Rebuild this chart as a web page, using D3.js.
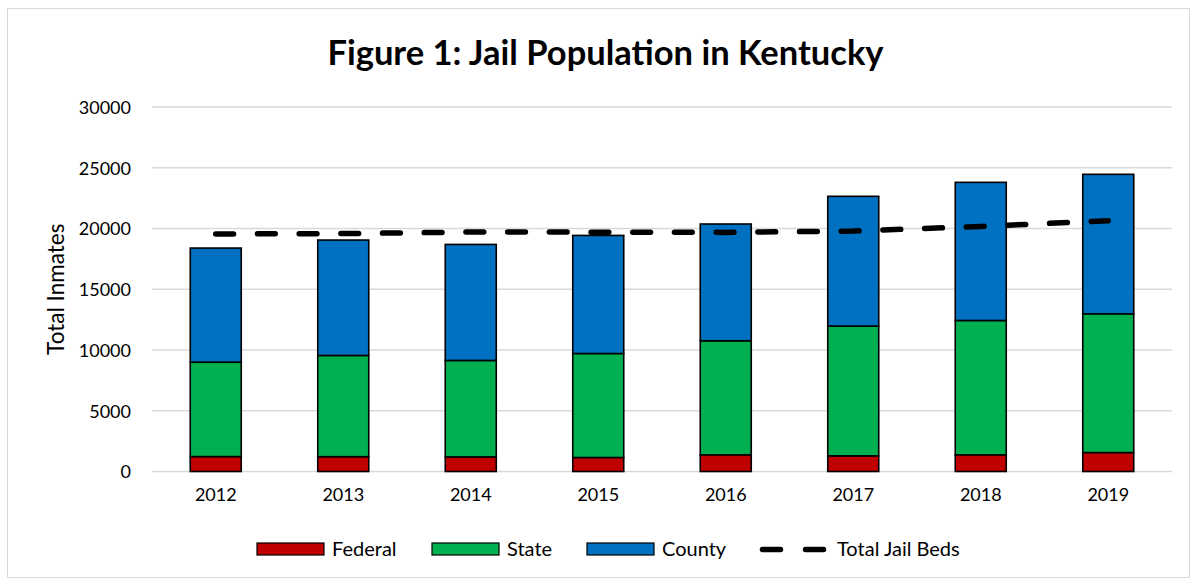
<!DOCTYPE html>
<html>
<head>
<meta charset="utf-8">
<script src="https://cdn.jsdelivr.net/npm/d3@7"></script>
<style>
  html, body { margin: 0; padding: 0; background: #fff; }
  svg { display: block; font-family: Lato, "Open Sans", sans-serif; }
</style>
</head>
<body>
<svg id="chart" width="1196" height="582"></svg>
<script>
// Kentucky jail population by year, stacked by holding authority
const years = ["2012", "2013", "2014", "2015", "2016", "2017", "2018", "2019"];
const federal = [1230, 1220, 1200, 1150, 1370, 1290, 1370, 1560];
const state = [7770, 8330, 7940, 8560, 9390, 10680, 11060, 11420];
const county = [9390, 9500, 9550, 9720, 9610, 10680, 11370, 11480];
const jailBeds = [19550, 19580, 19710, 19700, 19680, 19790, 20170, 20640];
const yTicks = [0, 5000, 10000, 15000, 20000, 25000, 30000];

const seriesNames = ["Federal", "State", "County"];
const seriesColors = ["#c00000", "#00b050", "#0070c0"];

const svg = d3.select("#chart");
const plot = { left: 152, right: 1172, top: 107, bottom: 471.5 };

// chart frame
svg.append("rect")
  .attr("x", 7.5).attr("y", 8.5)
  .attr("width", 1182).attr("height", 569)
  .attr("fill", "#fff").attr("stroke", "#d9d9d9").attr("stroke-width", 1);

// title
svg.append("text")
  .attr("x", 605.5).attr("y", 65)
  .attr("text-anchor", "middle")
  .attr("font-size", 34.5).attr("font-weight", "bold")
  .attr("fill", "#000")
  .text("Figure 1: Jail Population in Kentucky");

const x = d3.scaleBand().domain(years).range([plot.left, plot.right]).paddingInner(0.6).paddingOuter(0.3);
const y = d3.scaleLinear().domain([0, 30000]).range([plot.bottom, plot.top]);

// horizontal gridlines
svg.append("g")
  .selectAll("line")
  .data(yTicks)
  .join("line")
  .attr("x1", plot.left).attr("x2", plot.right)
  .attr("y1", d => y(d)).attr("y2", d => y(d))
  .attr("stroke", "#d9d9d9").attr("stroke-width", 1.5);

// y axis labels
const yAxis = d3.axisLeft(y).tickValues(yTicks).tickSize(0).tickPadding(0).tickFormat(d3.format("d"));
const gy = svg.append("g").attr("transform", `translate(131,0.5)`).call(yAxis);
gy.select(".domain").remove();
gy.selectAll("text").attr("font-size", 18).attr("fill", "#000").attr("font-family", "Lato, sans-serif");

// x axis labels
const xAxis = d3.axisBottom(x).tickSize(0).tickPadding(0);
const gx = svg.append("g").attr("transform", `translate(0,${plot.bottom + 17})`).call(xAxis);
gx.select(".domain").remove();
gx.selectAll("text").attr("font-size", 18).attr("fill", "#000").attr("font-family", "Lato, sans-serif");

// y axis title
svg.append("text")
  .attr("transform", `translate(64,${(plot.top + plot.bottom) / 2}) rotate(-90)`)
  .attr("text-anchor", "middle")
  .attr("font-size", 22.5).attr("fill", "#000")
  .text("Total Inmates");

// stacked bars
const rows = years.map((yr, i) => ({ year: yr, Federal: federal[i], State: state[i], County: county[i] }));
const stacked = d3.stack().keys(seriesNames)(rows);

svg.append("g")
  .selectAll("g")
  .data(stacked)
  .join("g")
  .attr("fill", (d, i) => seriesColors[i])
  .selectAll("rect")
  .data(d => d)
  .join("rect")
  .attr("x", d => x(d.data.year))
  .attr("width", x.bandwidth())
  .attr("y", d => y(d[1]))
  .attr("height", d => y(d[0]) - y(d[1]))
  .attr("stroke", "#000").attr("stroke-width", 1.6);

// total jail beds line
const line = d3.line()
  .x((d, i) => x(years[i]) + x.bandwidth() / 2)
  .y(d => y(d));

svg.append("path")
  .datum(jailBeds)
  .attr("d", line)
  .attr("fill", "none")
  .attr("stroke", "#000")
  .attr("stroke-width", 5.5)
  .attr("stroke-linecap", "round")
  .attr("stroke-dasharray", "17.8 23.9");

// legend
const legend = svg.append("g").attr("font-size", 20).attr("fill", "#000");
const legendItems = [
  { name: "Federal", color: seriesColors[0], x: 257 },
  { name: "State", color: seriesColors[1], x: 432 },
  { name: "County", color: seriesColors[2], x: 587 }
];
const ly = 549;
legendItems.forEach(it => {
  legend.append("rect")
    .attr("x", it.x).attr("y", ly - 6)
    .attr("width", 67).attr("height", 12)
    .attr("fill", it.color).attr("stroke", "#000").attr("stroke-width", 1.2);
  legend.append("text")
    .attr("x", it.x + 75).attr("y", ly + 7)
    .text(it.name);
});
legend.append("line")
  .attr("x1", 762.5).attr("x2", 823.5)
  .attr("y1", ly + 0.5).attr("y2", ly + 0.5)
  .attr("stroke", "#000").attr("stroke-width", 5.5)
  .attr("stroke-linecap", "round")
  .attr("stroke-dasharray", "18 25");
legend.append("text")
  .attr("x", 837).attr("y", ly + 7)
  .text("Total Jail Beds");
</script>
</body>
</html>
